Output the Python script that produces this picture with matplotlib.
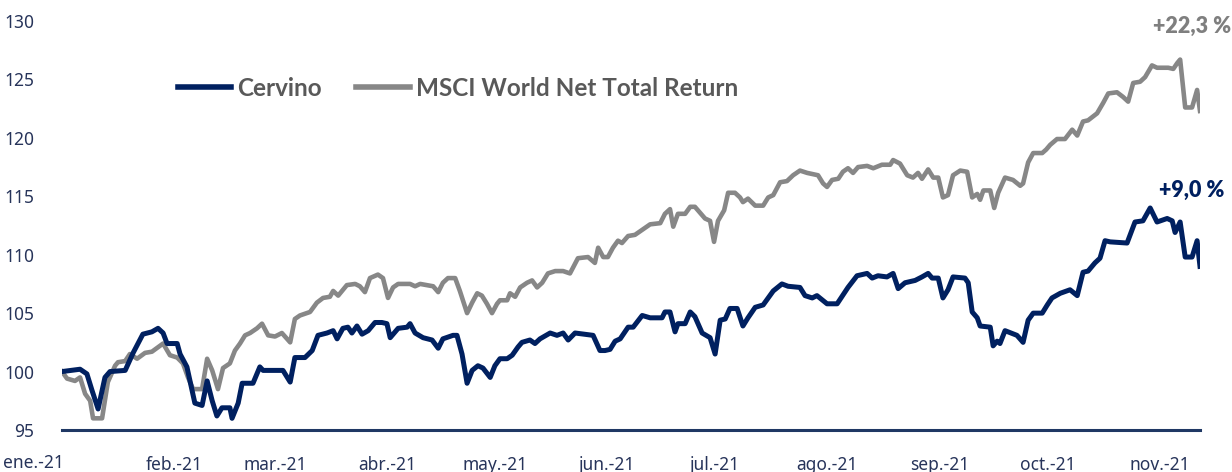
import numpy as np
from matplotlib import pyplot as plt

# days since 1 Jan 2021 and index value (base 100)
cervino_dias = np.array([
    0, 5.0, 6.9, 8.3, 10.0, 11.9, 13.3, 17.5, 19.7, 22.4, 24.9, 26.6, 28.0, 29.1,
    31.9, 32.7, 34.6, 36.0, 36.8, 38.8, 40.2, 41.6, 42.9, 44.3, 46.5, 47.1, 48.8,
    49.9, 52.9, 54.8, 55.7, 61.2, 63.2, 64.5, 67.3, 69.3, 70.9, 73.4, 75.1, 76.2,
    77.8, 79.2, 80.3, 81.7, 83.1, 84.8, 86.7, 88.6, 90.0, 90.9, 93.1, 95.6, 96.4,
    97.8, 100.0, 102.5, 104.2, 105.5, 108.3, 109.4, 110.8, 112.2, 113.6, 115.2,
    116.6, 118.6, 119.9, 121.3, 123.3, 124.7, 126.3, 127.4, 129.6, 131.0, 132.4,
    135.2, 137.1, 138.8, 140.2, 142.1, 147.1, 149.0, 150.4, 151.8, 153.2, 154.6,
    156.8, 158.2, 160.7, 162.9, 166.2, 167.0, 168.4, 169.8, 170.6, 172.6, 174.0,
    175.3, 177.3, 179.5, 180.9, 182.3, 183.7, 185.0, 187.0, 188.6, 190.0, 192.0,
    194.2, 197.0, 199.4, 201.1, 204.4, 205.8, 207.8, 209.1, 211.9, 214.7, 217.7,
    220.2, 223.0, 224.4, 226.0, 228.5, 230.2, 231.6, 233.5, 236.3, 238.2, 239.9,
    241.0, 242.7, 244.0, 245.4, 246.8, 250.1, 251.0, 252.1, 253.5, 254.3, 257.1,
    257.9, 259.0, 259.8, 261.2, 264.5, 266.2, 267.6, 269.0, 271.5, 272.9, 274.2,
    276.5, 279.2, 281.2, 282.8, 284.2, 286.1, 287.5, 288.9, 290.3, 295.0, 297.2,
    299.4, 301.4, 303.3, 306.1, 307.5, 308.3, 309.7, 311.1, 313.0, 314.4, 315.2])
cervino = np.array([
    100.0, 100.2, 99.8, 98.4, 96.8, 99.5, 100.0, 100.1, 101.6, 103.2, 103.4, 103.7,
    103.3, 102.4, 102.4, 101.5, 100.4, 98.4, 97.3, 97.1, 99.2, 97.5, 96.2, 96.9,
    96.9, 96.0, 97.3, 99.0, 99.0, 100.4, 100.1, 100.1, 99.1, 101.2, 101.2, 101.8,
    103.1, 103.3, 103.5, 102.8, 103.7, 103.8, 103.3, 103.9, 103.2, 103.5, 104.2,
    104.2, 104.1, 102.9, 103.7, 103.8, 104.1, 103.3, 102.9, 102.7, 102.0, 102.8,
    103.1, 103.1, 101.5, 99.0, 100.1, 100.5, 100.3, 99.5, 100.5, 101.1, 101.1,
    101.4, 102.1, 102.5, 102.7, 102.4, 102.8, 103.3, 103.1, 103.3, 102.7, 103.3,
    103.1, 101.8, 101.8, 101.9, 102.6, 102.8, 103.8, 103.8, 104.8, 104.6, 104.6,
    105.1, 105.1, 103.4, 104.1, 104.1, 105.1, 104.7, 103.3, 102.9, 101.5, 104.4,
    104.5, 105.4, 105.4, 103.9, 104.6, 105.5, 105.7, 106.9, 107.5, 107.3, 107.2,
    106.5, 106.3, 106.5, 105.8, 105.8, 107.2, 108.2, 108.4, 108.0, 108.2, 108.1,
    108.4, 107.1, 107.6, 107.8, 108.1, 108.4, 108.0, 108.0, 106.3, 107.0, 108.1,
    108.0, 107.6, 105.1, 104.6, 103.9, 103.8, 102.2, 102.6, 102.4, 103.5, 103.1,
    102.5, 104.4, 105.0, 105.0, 105.7, 106.3, 106.7, 107.0, 106.5, 108.5, 108.6,
    109.3, 109.7, 111.2, 111.1, 111.0, 112.8, 112.9, 114.0, 112.8, 113.1, 112.9,
    111.9, 112.8, 109.8, 109.8, 111.2, 109.0])

msci_dias = np.array([
    0, 1.4, 3.6, 5.0, 6.4, 7.8, 8.6, 11.1, 12.7, 14.7, 15.5, 17.5, 18.8, 20.8, 23.0,
    24.9, 27.1, 28.0, 29.9, 31.9, 33.5, 34.9, 36.3, 38.8, 40.2, 41.6, 43.2, 44.6,
    46.5, 47.9, 49.3, 50.7, 52.1, 54.0, 55.4, 57.1, 59.0, 60.9, 63.2, 64.5, 65.9,
    68.7, 70.6, 72.3, 74.2, 75.1, 76.5, 78.9, 81.2, 82.5, 83.9, 85.3, 87.5, 88.9,
    90.3, 91.7, 93.1, 96.4, 97.8, 99.2, 102.8, 104.2, 105.5, 106.9, 108.9, 110.2,
    112.2, 113.6, 115.0, 116.3, 117.7, 119.1, 120.5, 121.3, 123.3, 124.1, 125.5,
    126.9, 128.8, 130.2, 131.6, 133.0, 134.6, 136.6, 138.8, 140.7, 142.9, 145.7,
    147.6, 148.5, 149.9, 151.2, 152.6, 154.0, 155.1, 156.8, 158.7, 161.5, 162.9,
    165.7, 167.0, 168.4, 169.3, 170.6, 172.6, 174.0, 175.3, 176.7, 178.1, 179.5,
    180.6, 181.7, 183.4, 184.5, 186.4, 187.8, 188.6, 190.0, 192.0, 194.2, 195.6,
    197.0, 198.9, 200.8, 202.5, 204.4, 206.4, 209.4, 210.8, 211.9, 213.3, 215.0,
    216.3, 217.7, 219.1, 220.5, 223.0, 224.7, 227.1, 229.4, 230.2, 232.1, 234.1,
    235.7, 237.1, 238.2, 239.9, 241.3, 242.7, 244.0, 245.4, 246.8, 248.8, 250.7,
    252.1, 253.5, 254.3, 255.2, 257.1, 258.2, 259.3, 261.2, 263.4, 265.4, 266.2,
    267.6, 269.0, 271.5, 272.6, 273.7, 275.6, 277.8, 279.8, 281.2, 282.8, 284.2,
    286.7, 288.4, 289.8, 292.2, 293.9, 295.3, 296.7, 298.6, 300.0, 301.9, 303.3,
    306.4, 307.8, 308.9, 309.7, 311.1, 313.0, 314.4, 315.2])
msci = np.array([
    100.0, 99.4, 99.2, 99.5, 98.1, 97.5, 96.0, 96.0, 99.1, 100.5, 100.8, 100.9,
    101.5, 101.1, 101.6, 101.7, 102.2, 102.4, 101.4, 101.2, 100.7, 99.5, 98.5,
    98.5, 101.1, 100.1, 98.5, 100.3, 100.7, 101.8, 102.4, 103.1, 103.3, 103.7,
    104.1, 103.1, 103.0, 103.3, 102.5, 104.5, 104.8, 105.1, 105.9, 106.3, 106.4,
    106.9, 106.5, 107.4, 107.5, 107.3, 106.8, 108.0, 108.3, 108.0, 106.3, 107.2,
    107.5, 107.5, 107.3, 107.5, 107.3, 106.8, 107.6, 108.0, 108.0, 106.9, 105.0,
    105.9, 106.7, 106.5, 105.8, 105.0, 105.8, 106.1, 106.1, 106.7, 106.4, 107.2,
    107.6, 107.8, 107.2, 107.6, 108.4, 108.6, 108.6, 108.4, 109.7, 109.8, 109.3,
    110.6, 109.8, 109.8, 110.6, 111.2, 111.0, 111.6, 111.7, 112.3, 112.6, 112.7,
    113.5, 113.9, 112.4, 113.5, 113.5, 114.1, 114.1, 113.6, 113.1, 112.9, 111.1,
    112.9, 113.8, 115.3, 115.3, 114.9, 114.5, 114.8, 114.2, 114.2, 114.9, 115.1,
    116.2, 116.3, 116.8, 117.2, 117.0, 116.8, 116.1, 115.8, 116.4, 116.5, 117.1,
    117.4, 117.0, 117.5, 117.6, 117.4, 117.7, 117.7, 118.1, 117.8, 116.8, 116.6,
    117.0, 116.5, 117.3, 116.6, 116.6, 114.9, 115.1, 116.8, 117.2, 117.1, 114.9,
    115.2, 114.7, 115.5, 115.5, 114.0, 115.3, 116.6, 116.4, 115.9, 116.1, 117.9,
    118.7, 118.7, 119.0, 119.4, 119.9, 119.9, 120.7, 120.2, 121.4, 121.5, 122.1,
    123.0, 123.8, 123.9, 123.5, 123.1, 124.7, 124.8, 125.2, 126.2, 126.0, 126.0,
    125.9, 126.4, 126.7, 122.6, 122.6, 124.1, 122.3])

meses = ['ene.-21', 'feb.-21', 'mar.-21', 'abr.-21', 'may.-21', 'jun.-21',
         'jul.-21', 'ago.-21', 'sep.-21', 'oct.-21', 'nov.-21']
inicio_mes = [0, 31, 59, 90, 120, 151, 181, 212, 243, 273, 304]

NAVY = '#002060'
GRIS = '#878787'
TXT = '#27345a'

fig = plt.figure(figsize=(12.32, 4.72), dpi=100)
ax = fig.add_axes([62 / 1232, 42 / 472, 1138 / 1232, 409 / 472])

ax.plot(cervino_dias, cervino, color=NAVY, lw=3.6, label='Cervino',
        solid_joinstyle='round', zorder=3)
ax.plot(msci_dias, msci, color=GRIS, lw=3.3, label='MSCI World Net Total Return',
        solid_joinstyle='round', zorder=2)

ax.set_xlim(0, 315.2)
ax.set_ylim(95, 130)
ax.set_yticks(range(95, 131, 5))
ax.set_xticks(inicio_mes)
# first label is pushed inside the figure, as in the original
ax.set_xticklabels([''] + meses[1:])
fig.text(33 / 1232, 1 - 463.5 / 472, meses[0], ha='center', va='center',
         fontsize=12.5, color=TXT, family='Noto Sans')

for s in ['top', 'right', 'left']:
    ax.spines[s].set_visible(False)
ax.spines['bottom'].set_color('#1f3864')
ax.spines['bottom'].set_linewidth(2.2)
ax.tick_params(axis='both', length=0, labelsize=12.5, labelcolor=TXT)
ax.tick_params(axis='y', pad=20)
ax.tick_params(axis='x', pad=19)
for lab in ax.get_xticklabels() + ax.get_yticklabels():
    lab.set_fontfamily('Noto Sans')

leg = ax.legend(loc='center left', bbox_to_anchor=(178 / 1232, 1 - 88 / 472),
                bbox_transform=fig.transFigure, ncol=2, frameon=False,
                handlelength=2.2, handletextpad=0.25, columnspacing=1.4,
                borderpad=0, borderaxespad=0,
                prop={'family': 'Lato', 'weight': 'bold', 'size': 17.5})
for t in leg.get_texts():
    t.set_color('#595959')
for h in leg.get_lines():
    h.set_linewidth(4)

etq_msci = '+' + f'{msci[-1] - 100:.1f}'.replace('.', ',') + ' %'
etq_cerv = '+' + f'{cervino[-1] - 100:.1f}'.replace('.', ',') + ' %'
ax.text(313.0, 129.5, etq_msci, color='#7f7f7f', fontsize=15.5, fontweight='heavy',
        family='Lato', ha='center', va='center', clip_on=False)
ax.text(313.0, 115.5, etq_cerv, color=NAVY, fontsize=15.5, fontweight='heavy',
        family='Lato', ha='center', va='center', clip_on=False)

plt.savefig('out.png', dpi=100)
